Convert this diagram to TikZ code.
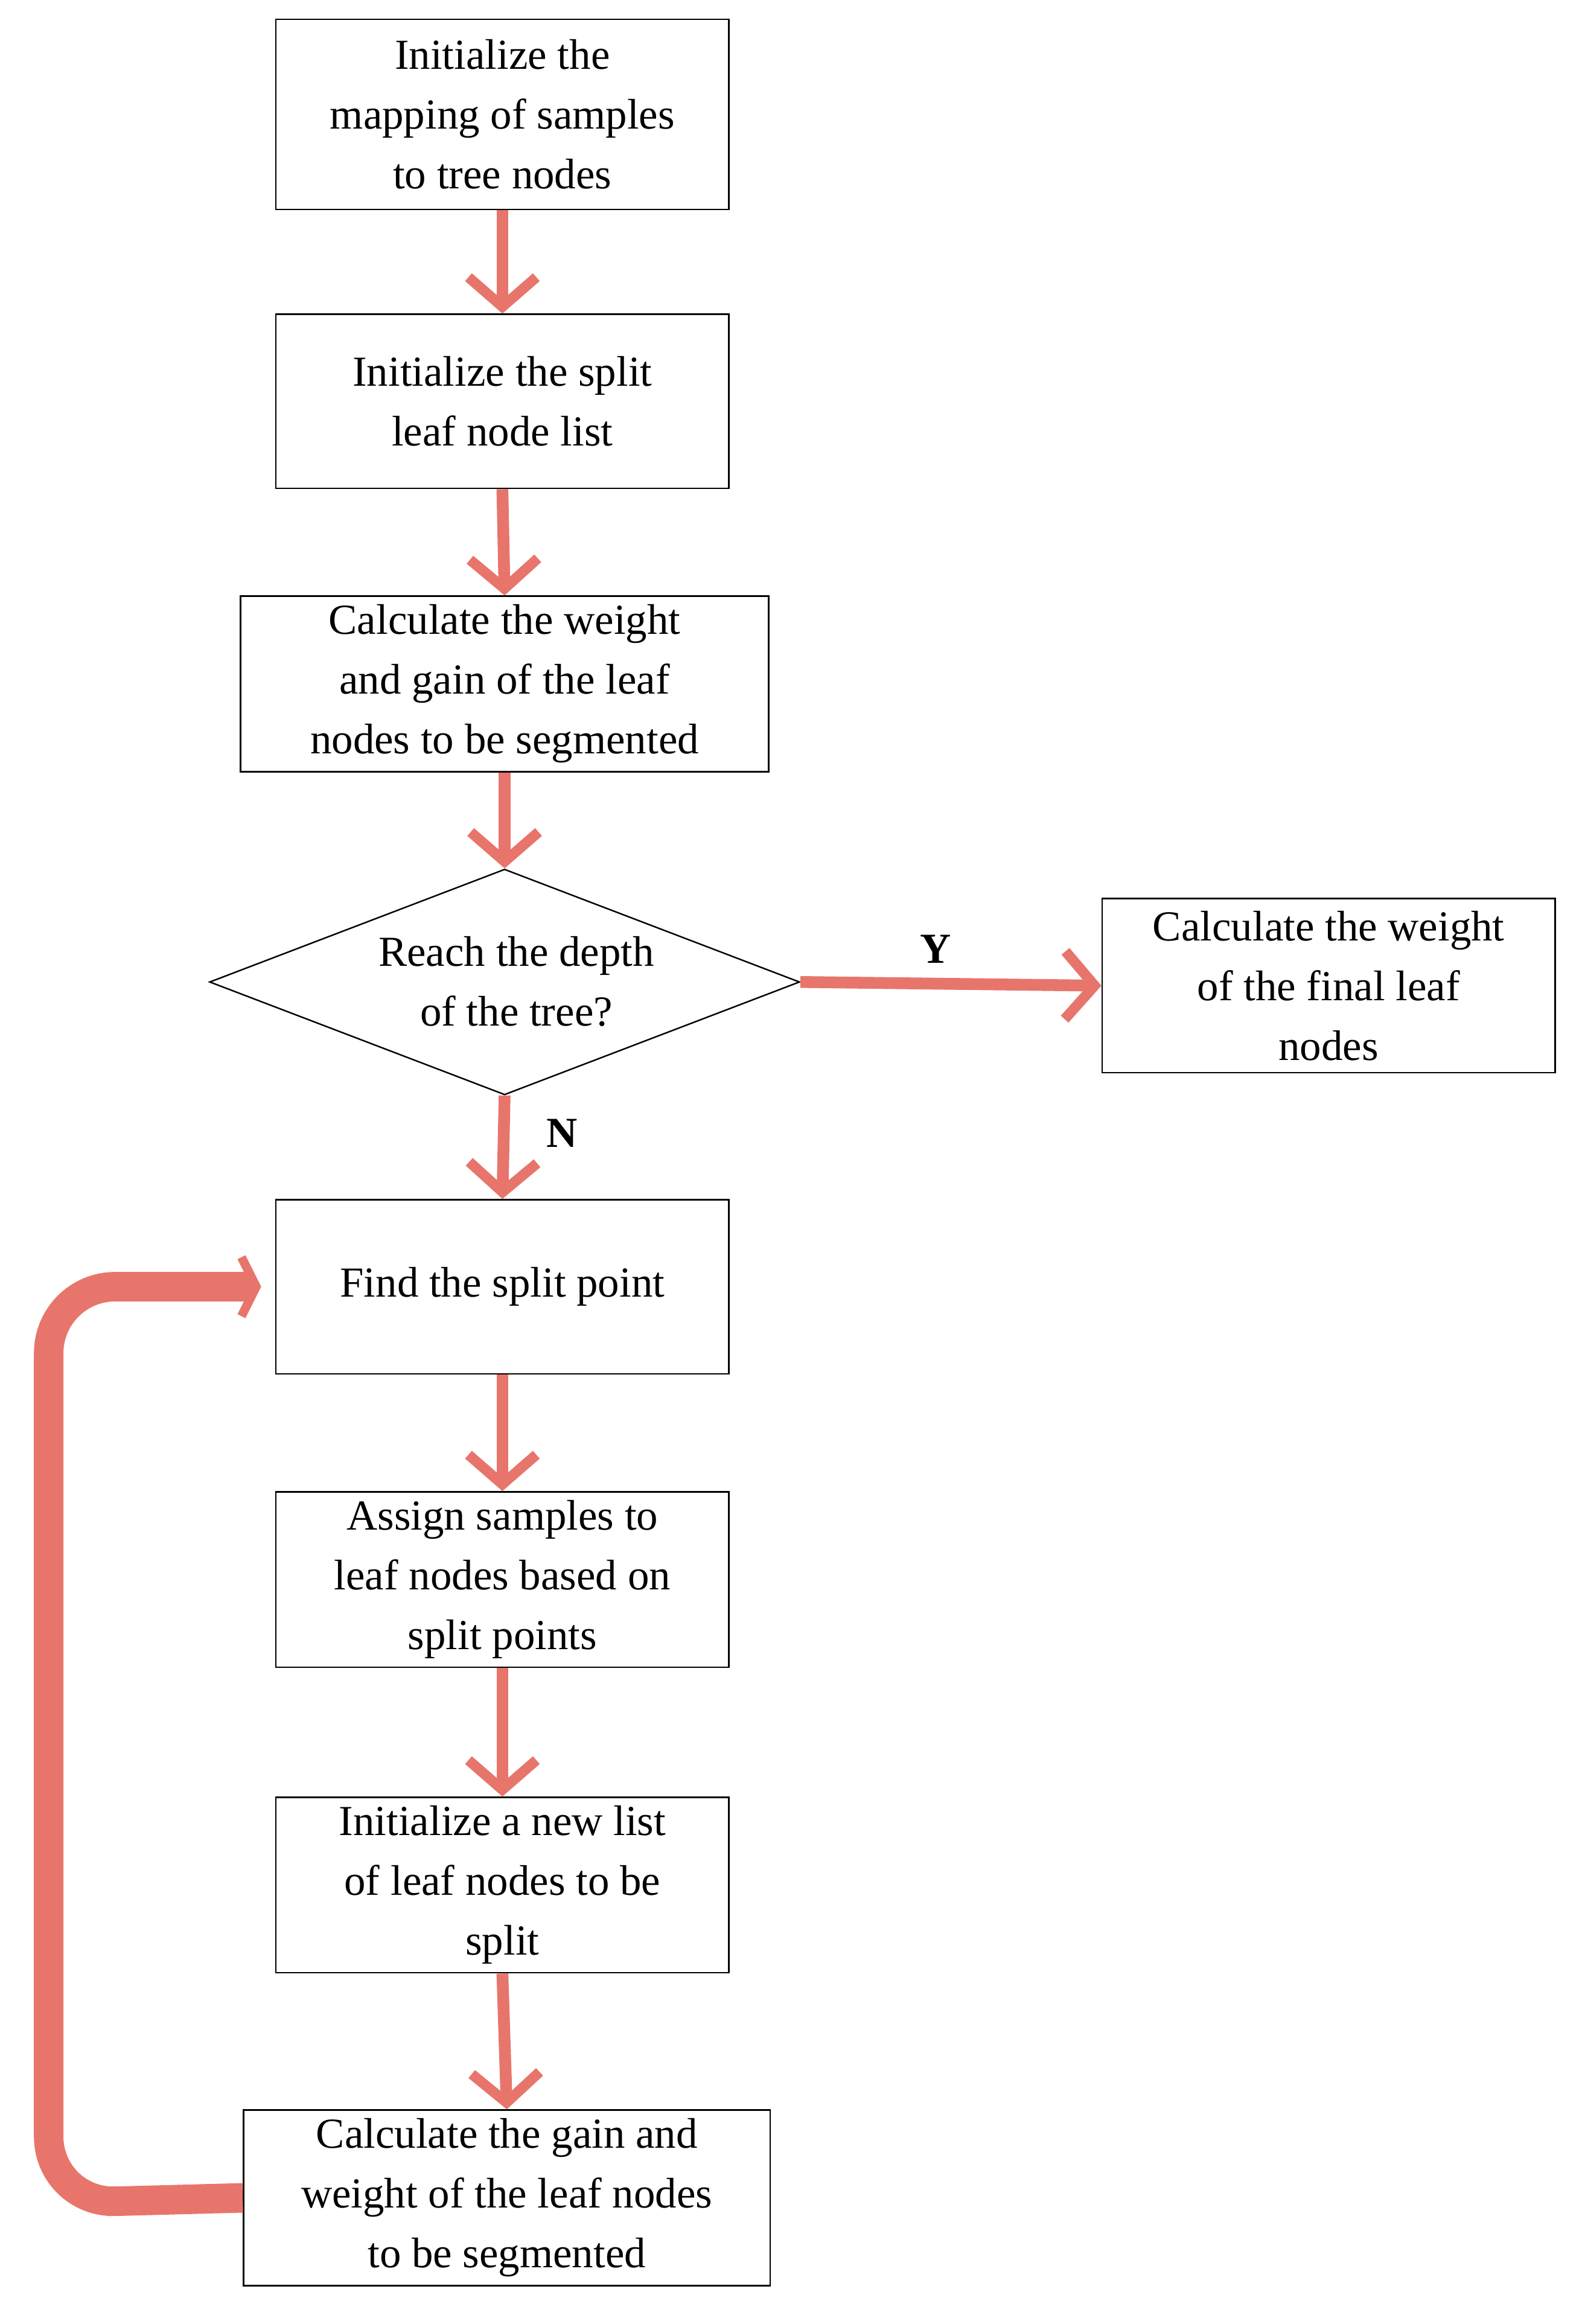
\documentclass[tikz,border=0pt]{standalone}
\usepackage{fontspec}
\setmainfont{Liberation Serif}
\usetikzlibrary{arrows.meta,shapes.geometric}
\definecolor{arr}{HTML}{E8756B}
\begin{document}
\begin{tikzpicture}[x=1pt,y=-1pt,
  box/.style={draw,line width=1pt,inner sep=0pt,align=center,font=\fontsize{29}{40.5}\selectfont},
  flow/.style={draw=arr,line width=8pt,-{Straight Barb[length=20pt,width=46pt,line width=7pt]}},
  lab/.style={font=\fontsize{29}{34}\selectfont\bfseries}]
\useasboundingbox (0,0) rectangle (1070,1575);
\node[box,minimum width=307pt,minimum height=129pt] (a) at (340.5,77.5) {Initialize the\\mapping of samples\\to tree nodes};
\node[box,minimum width=307pt,minimum height=118pt] (b) at (340.5,272) {Initialize the split\\leaf node list};
\node[box,minimum width=358pt,minimum height=119pt] (c) at (342,463.5) {Calculate the weight\\and gain of the leaf\\nodes to be segmented};
\node[draw,line width=1pt,diamond,minimum width=400pt,minimum height=153pt,inner sep=0pt] (d) at (342,665.5) {};
\node[box,draw=none] (dt) at (350,665) {Reach the depth\\of the tree?};
\node[box,minimum width=307pt,minimum height=118pt] (r) at (900.5,668) {Calculate the weight\\of the final leaf\\nodes};
\node[box,minimum width=307pt,minimum height=118pt] (f) at (340.5,872) {Find the split point};
\node[box,minimum width=307pt,minimum height=119pt] (g) at (340.5,1070.5) {Assign samples to\\leaf nodes based on\\split points};
\node[box,minimum width=307pt,minimum height=119pt] (h) at (340.5,1277.5) {Initialize a new list\\of leaf nodes to be\\split};
\node[box,minimum width=357pt,minimum height=119pt] (i) at (343.5,1489.5) {Calculate the gain and\\weight of the leaf nodes\\to be segmented};
\draw[flow] (a.south) -- (b.north);
\draw[flow] (b.south) -- (c.north);
\draw[flow] (c.south) -- (d.north);
\draw[flow] (d.east) -- (r.west);
\draw[flow] (d.south) -- (f.north);
\draw[flow] (f.south) -- (g.north);
\draw[flow] (g.south) -- (h.north);
\draw[flow] (h.south) -- (i.north);
\coordinate (ft) at (177,872);
\draw[draw=arr,line width=20pt,rounded corners=45pt,-{Straight Barb[length=10pt,width=40pt,line width=6pt]}] (i.west) -- (33,1493) -- (33,872) -- (ft);
\node[lab] (y) at (634,643) {Y};
\node[lab] (n) at (381,768) {N};
\end{tikzpicture}
\end{document}
